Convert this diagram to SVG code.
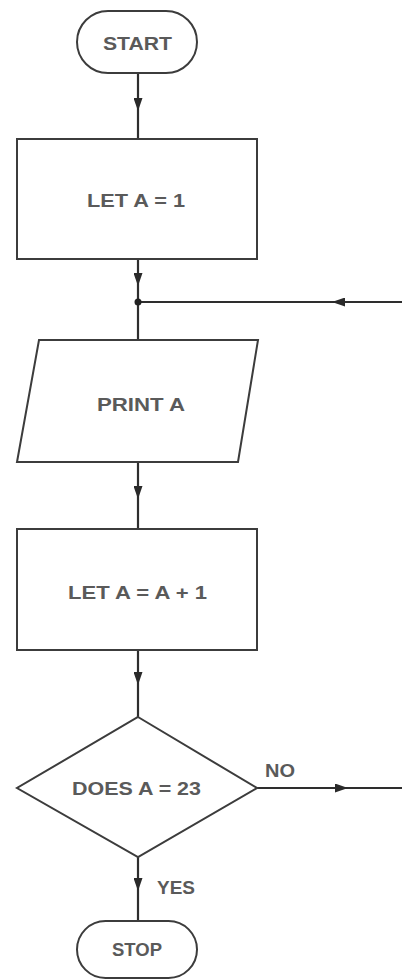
<svg xmlns="http://www.w3.org/2000/svg" width="402" height="980" viewBox="0 0 402 980">
<defs>
<style>
.shape{fill:#ffffff;stroke:#3c3c3c;stroke-width:2}
.line{fill:none;stroke:#2e2e2e;stroke-width:2.2}
.lbl{font-family:"Liberation Sans",Arial,sans-serif;font-size:19px;font-weight:bold;fill:#5a5a5a}
</style>
<marker id="arr" markerUnits="userSpaceOnUse" markerWidth="13" markerHeight="9" viewBox="0 0 13 9" refX="13" refY="4.5" orient="auto">
<path d="M0,0 L13,4.5 L0,9 z" fill="#2a2a2a"/>
</marker>
</defs>
<rect width="402" height="980" fill="#ffffff"/>
<g id="connectors">
<polyline class="line" points="138,73 138,111 138,139" marker-mid="url(#arr)"/>
<polyline class="line" points="138,259 138,286 138,302" marker-mid="url(#arr)"/>
<line class="line" x1="138" y1="302" x2="138" y2="340"/>
<polyline class="line" points="402,302 332,302 138,302" marker-mid="url(#arr)"/>
<circle cx="138" cy="302" r="3.5" fill="#222"/>
<polyline class="line" points="138,462 138,499 138,529" marker-mid="url(#arr)"/>
<polyline class="line" points="138,650 138,685 138,717" marker-mid="url(#arr)"/>
<polyline class="line" points="257,788 348,788 402,788" marker-mid="url(#arr)"/>
<polyline class="line" points="138,857 138,891 138,921" marker-mid="url(#arr)"/>
<text class="lbl" x="265" y="777" textLength="30" lengthAdjust="spacingAndGlyphs">NO</text>
<text class="lbl" x="157" y="894" textLength="38" lengthAdjust="spacingAndGlyphs">YES</text>
</g>
<g id="start">
<rect class="shape" x="77" y="11" width="120" height="62" rx="31" ry="31"/>
<text class="lbl" x="103" y="50" textLength="69" lengthAdjust="spacingAndGlyphs">START</text>
</g>
<g id="let1">
<rect class="shape" x="17" y="139" width="240" height="120"/>
<text class="lbl" x="87" y="207" textLength="98" lengthAdjust="spacingAndGlyphs">LET A = 1</text>
</g>
<g id="print">
<polygon class="shape" points="39,340 258,340 238,462 17,462"/>
<text class="lbl" x="97" y="411" textLength="88" lengthAdjust="spacingAndGlyphs">PRINT A</text>
</g>
<g id="let2">
<rect class="shape" x="17" y="529" width="240" height="121"/>
<text class="lbl" x="68" y="599" textLength="139" lengthAdjust="spacingAndGlyphs">LET A = A + 1</text>
</g>
<g id="decision">
<polygon class="shape" points="138,717 257,788 138,857 17,788"/>
<text class="lbl" x="72" y="795" textLength="129" lengthAdjust="spacingAndGlyphs">DOES A = 23</text>
</g>
<g id="stop">
<rect class="shape" x="77" y="921" width="120" height="57" rx="28.5" ry="28.5"/>
<text class="lbl" x="112" y="956" textLength="50" lengthAdjust="spacingAndGlyphs">STOP</text>
</g>
</svg>
